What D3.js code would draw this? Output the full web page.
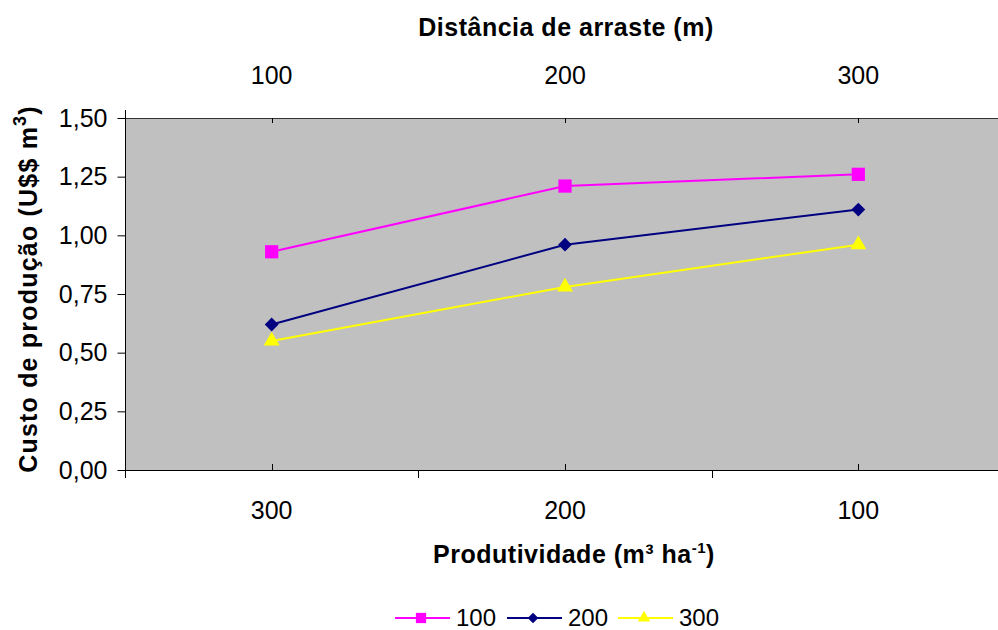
<!DOCTYPE html>
<html>
<head>
<meta charset="utf-8">
<script src="https://cdn.jsdelivr.net/npm/d3@7"></script>
<style>
  body { margin: 0; background: #fff; }
  svg text { font-family: "Liberation Sans", Arial, sans-serif; fill: #000; }
</style>
</head>
<body>
<svg id="chart" width="998" height="630"></svg>
<script>
// categories and values
const produtividade = ['300', '200', '100'];   // bottom axis
const distancias = ['100', '200', '300'];      // top axis
const seriesNames = ['100', '200', '300'];
const custo100 = [0.93, 1.21, 1.26];
const custo200 = [0.62, 0.96, 1.11];
const custo300 = [0.55, 0.78, 0.96];
const yTicks = [0, 0.25, 0.5, 0.75, 1.0, 1.25, 1.5];

const series = [
    {name: seriesNames[0], values: custo100, color: '#FF00FF', symbol: d3.symbolSquare, size: 175, rot: 0},
    {name: seriesNames[1], values: custo200, color: '#000080', symbol: d3.symbolSquare, size: 95, rot: 45},
    {name: seriesNames[2], values: custo300, color: '#FFFF00', symbol: d3.symbolTriangle, size: 110, rot: 0}
];

const plotLeft = 125, plotRight = 1005, plotTop = 118, plotBottom = 470;
const svg = d3.select('#chart');

const x = d3.scalePoint().domain(produtividade).range([plotLeft, plotRight]).padding(0.5);
const xTop = d3.scalePoint().domain(distancias).range([plotLeft, plotRight]).padding(0.5);
const y = d3.scaleLinear().domain([0, 1.5]).range([plotBottom, plotTop]);
const fmt = d3.formatLocale({decimal: ',', thousands: '.', grouping: [3], currency: ['', '']}).format('.2f');

// plot area
svg.append('rect')
    .attr('x', plotLeft).attr('y', plotTop)
    .attr('width', plotRight - plotLeft).attr('height', plotBottom - plotTop)
    .attr('fill', '#C0C0C0');
svg.append('line')
    .attr('x1', plotLeft).attr('x2', plotRight)
    .attr('y1', plotTop + 0.5).attr('y2', plotTop + 0.5)
    .attr('stroke', '#333').attr('stroke-width', 1);

// y axis
const yAxis = svg.append('g')
    .attr('transform', `translate(${plotLeft + 0.5},0)`)
    .call(d3.axisLeft(y).tickValues(yTicks).tickFormat(fmt).tickSize(8).tickPadding(10));
yAxis.select('.domain').remove();
yAxis.selectAll('line').attr('stroke', '#000');
yAxis.selectAll('text').attr('font-size', 25).attr('fill', '#000').attr('font-family', null);
yAxis.append('line')
    .attr('y1', plotTop - 8).attr('y2', plotBottom + 8)
    .attr('stroke', '#000');

// bottom axis: boundary ticks outward, centre ticks inward
const step = x.step();
const bounds = produtividade.map(d => x(d) - step / 2);
svg.append('line')
    .attr('x1', plotLeft).attr('x2', plotRight)
    .attr('y1', plotBottom + 0.5).attr('y2', plotBottom + 0.5)
    .attr('stroke', '#000');
svg.selectAll('.bound-tick').data(bounds).join('line')
    .attr('class', 'bound-tick')
    .attr('x1', d => Math.round(d) + 0.5).attr('x2', d => Math.round(d) + 0.5)
    .attr('y1', plotBottom).attr('y2', plotBottom + 8)
    .attr('stroke', '#000');
svg.selectAll('.in-tick-b').data(produtividade).join('line')
    .attr('class', 'in-tick-b')
    .attr('x1', d => Math.round(x(d)) + 0.5).attr('x2', d => Math.round(x(d)) + 0.5)
    .attr('y1', plotBottom - 6).attr('y2', plotBottom)
    .attr('stroke', '#000');
svg.selectAll('.in-tick-t').data(distancias).join('line')
    .attr('class', 'in-tick-t')
    .attr('x1', d => Math.round(xTop(d)) + 0.5).attr('x2', d => Math.round(xTop(d)) + 0.5)
    .attr('y1', plotTop).attr('y2', plotTop + 5)
    .attr('stroke', '#000');

svg.selectAll('.xlab').data(produtividade).join('text')
    .attr('class', 'xlab')
    .attr('x', d => x(d)).attr('y', 519)
    .attr('text-anchor', 'middle').attr('font-size', 25)
    .text(d => d);
svg.selectAll('.xtoplab').data(distancias).join('text')
    .attr('class', 'xtoplab')
    .attr('x', d => xTop(d)).attr('y', 84)
    .attr('text-anchor', 'middle').attr('font-size', 25)
    .text(d => d);

// titles
svg.append('text')
    .attr('x', 566).attr('y', 36)
    .attr('text-anchor', 'middle').attr('font-size', 25).attr('font-weight', 'bold')
    .attr('letter-spacing', 0.5)
    .text('Distância de arraste (m)');

const xt = svg.append('text')
    .attr('x', 574).attr('y', 563)
    .attr('text-anchor', 'middle').attr('font-size', 25).attr('font-weight', 'bold')
    .attr('letter-spacing', 0.5);
xt.append('tspan').text('Produtividade (m³ ha');
xt.append('tspan').attr('dy', -10).attr('font-size', 15).text('-1');
xt.append('tspan').attr('dy', 10).text(')');

const yt = svg.append('text')
    .attr('transform', 'translate(37,289) rotate(-90)')
    .attr('text-anchor', 'middle').attr('font-size', 25).attr('font-weight', 'bold')
    .attr('letter-spacing', 1.2);
yt.append('tspan').text('Custo de produção (U$$ m');
yt.append('tspan').attr('dy', -11).attr('font-size', 18).text('3');
yt.append('tspan').attr('dy', 11).text(')');

// lines and markers
const line = d3.line()
    .x((d, i) => x(produtividade[i]))
    .y(d => y(d));

series.forEach(s => {
    svg.append('path')
        .datum(s.values)
        .attr('d', line)
        .attr('fill', 'none')
        .attr('stroke', s.color)
        .attr('stroke-width', 2);
    svg.selectAll(null).data(s.values).join('path')
        .attr('transform', (d, i) => `translate(${x(produtividade[i])},${y(d)}) rotate(${s.rot})`)
        .attr('d', d3.symbol(s.symbol, s.size))
        .attr('fill', s.color);
});

// legend
const legendX = [395, 507, 618];
const legend = svg.append('g');
series.forEach((s, i) => {
    const g = legend.append('g').attr('transform', `translate(${legendX[i]},618)`);
    g.append('line').attr('x1', 0).attr('x2', 55).attr('stroke', s.color).attr('stroke-width', 2);
    g.append('path').attr('transform', `translate(26,0) rotate(${s.rot})`)
        .attr('d', d3.symbol(s.symbol, s.size * 0.6)).attr('fill', s.color);
    g.append('text').attr('x', 61).attr('y', 8).attr('font-size', 24).text(s.name);
});
</script>
</body>
</html>
